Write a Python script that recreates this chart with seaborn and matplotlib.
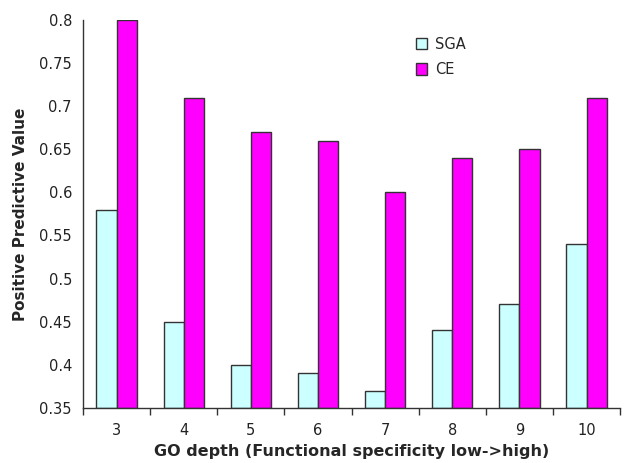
import matplotlib
matplotlib.use('Agg')
import matplotlib.pyplot as plt
import numpy as np
import pandas as pd
import seaborn as sns

# GO depth levels and PPV values
depths = ['3', '4', '5', '6', '7', '8', '9', '10']
sga = [0.58, 0.45, 0.40, 0.39, 0.37, 0.44, 0.47, 0.54]
ce = [0.80, 0.71, 0.67, 0.66, 0.60, 0.64, 0.65, 0.71]
series = ['SGA', 'CE']
colors = ['#CCFFFF', '#FF00FF']
yticks = [0.35, 0.4, 0.45, 0.5, 0.55, 0.6, 0.65, 0.7, 0.75, 0.8]
ytick_labels = ['0.35', '0.4', '0.45', '0.5', '0.55', '0.6', '0.65', '0.7', '0.75', '0.8']

df = pd.DataFrame({
    'depth': depths * 2,
    'ppv': sga + ce,
    'series': ['SGA'] * len(depths) + ['CE'] * len(depths),
})

sns.set_style('white')
plt.rcParams['font.family'] = ['DejaVu Sans']

fig = plt.figure(figsize=(6.29, 4.63), dpi=100)
ax = fig.add_axes([0.132, 0.119, 0.854, 0.838])

sns.barplot(data=df, x='depth', y='ppv', hue='series', hue_order=series,
            order=depths, palette=colors, saturation=1, width=0.6,
            edgecolor='#333333', linewidth=1, ax=ax)

# bars start at the axis floor (0.35)
for p in ax.patches:
    h = p.get_height()
    if h > 0:
        p.set_y(0.35)
        p.set_height(h - 0.35)

ax.set_ylim(0.35, 0.8)
ax.set_xlim(-0.5, len(depths) - 0.5)
ax.set_yticks(yticks)
ax.set_yticklabels(ytick_labels, fontsize=10.5, color='#222222')
ax.set_xticks(range(len(depths)))
ax.set_xticklabels(depths, fontsize=10.5, color='#222222')
ax.set_xticks(np.arange(-0.5, len(depths), 1.0), minor=True)
ax.tick_params(axis='x', which='major', length=0, pad=11)
ax.tick_params(axis='x', which='minor', length=5, width=1, direction='out', color='#333333')
ax.tick_params(axis='y', length=5, width=1, direction='out', color='#333333', pad=3)
ax.tick_params(axis='x', which='both', bottom=True)

for s in ['top', 'right']:
    ax.spines[s].set_visible(False)
for s in ['left', 'bottom']:
    ax.spines[s].set_color('#333333')
    ax.spines[s].set_linewidth(1)

ax.set_ylabel('Positive Predictive Value', fontsize=11, fontweight='bold', labelpad=8)
ax.set_xlabel('GO depth (Functional specificity low->high)',
              fontsize=11.5, fontweight='bold', labelpad=4)

leg = ax.legend(loc='upper left', bbox_to_anchor=(0.595, 0.99), frameon=False,
                fontsize=10.5, handlelength=0.8, handleheight=0.8,
                labelspacing=0.7, handletextpad=0.5)

fig.savefig('out.png', dpi=100)
